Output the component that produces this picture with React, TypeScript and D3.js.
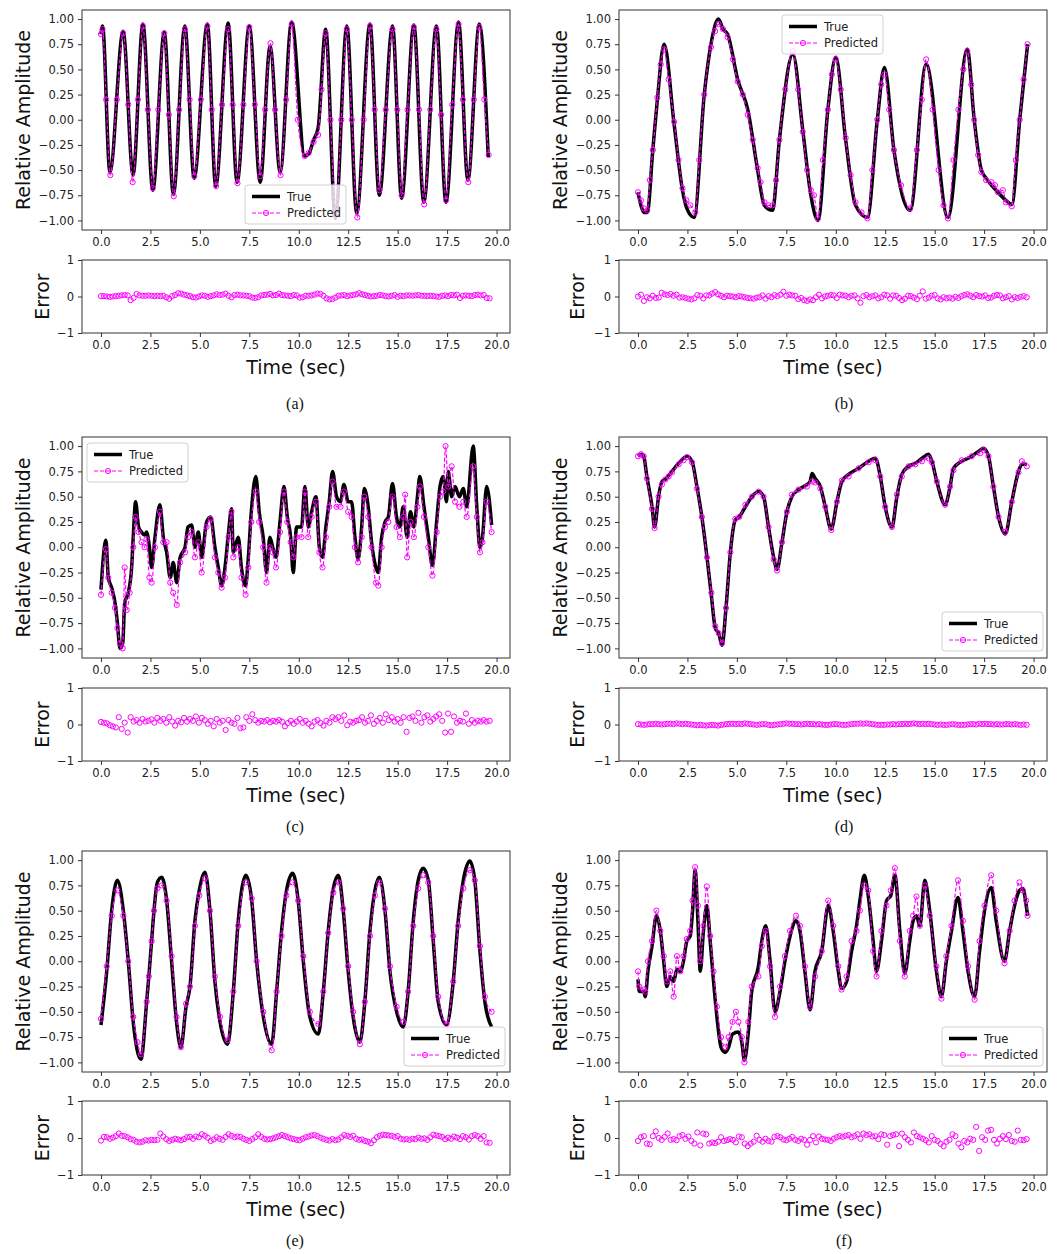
import { useEffect, useRef } from 'react';
import * as d3 from 'd3';

type Pt = [number, number];

const FONT = '"DejaVu Sans", sans-serif';
const MAGENTA = '#ff00ff';

// tick labels
const X_TICKS = [0, 2.5, 5, 7.5, 10, 12.5, 15, 17.5, 20];
const AMP_TICKS = [-1, -0.75, -0.5, -0.25, 0, 0.25, 0.5, 0.75, 1];
const ERR_TICKS = [-1, 0, 1];
const ERR_STEP = 0.15; // sampling interval of the error points (sec)

// (a)
const trueA: Pt[] = [[0,0.85],[0.08,0.93],[0.45,-0.52],[1.12,0.88],[1.62,-0.55],[2.12,0.95],[2.62,-0.7],[3.2,0.87],[3.66,-0.74],[4.24,0.93],[4.71,-0.58],[5.38,0.95],[5.8,-0.66],[6.43,0.96],[6.88,-0.62],[7.5,0.93],[8.05,-0.62],[8.55,0.73],[9.06,-0.52],[9.64,0.97],[10.3,-0.36],[10.5,-0.34],[10.75,-0.2],[10.98,-0.08],[11.36,0.9],[11.85,-0.98],[12.43,0.93],[12.93,-0.93],[13.6,0.95],[14.07,-0.75],[14.74,0.93],[15.2,-0.78],[15.82,0.94],[16.32,-0.82],[16.96,0.93],[17.44,-0.82],[18.08,0.97],[18.55,-0.6],[19.13,0.95],[19.58,-0.37]];
const predA: Pt[] = [[0,0.85],[0.08,0.9],[0.26,0.2],[0.47,-0.55],[0.8,0.2],[1.12,0.86],[1.38,0.15],[1.6,-0.62],[1.87,0.2],[2.12,0.93],[2.37,0.1],[2.62,-0.68],[2.9,0.1],[3.2,0.86],[3.43,0.05],[3.68,-0.76],[3.95,0.1],[4.24,0.9],[4.48,0.2],[4.72,-0.56],[5.05,0.2],[5.38,0.93],[5.6,0.1],[5.82,-0.66],[6.12,0.15],[6.43,0.9],[6.66,0.15],[6.9,-0.63],[7.2,0.15],[7.5,0.92],[7.78,0.15],[8.05,-0.56],[8.3,0.1],[8.57,0.76],[8.8,0.1],[9.08,-0.55],[9.36,0.2],[9.64,0.95],[9.95,0],[10.3,-0.36],[10.5,-0.33],[10.75,-0.22],[10.98,-0.15],[11.15,0.3],[11.36,0.86],[11.6,0],[11.87,-0.95],[12.15,0],[12.43,0.9],[12.68,0],[12.96,-0.97],[13.28,0],[13.6,0.93],[13.84,0.1],[14.07,-0.7],[14.4,0.1],[14.74,0.9],[14.98,0.1],[15.2,-0.75],[15.5,0.1],[15.82,0.92],[16.08,0.1],[16.34,-0.84],[16.65,0.1],[16.96,0.9],[17.2,0.05],[17.45,-0.8],[17.76,0.15],[18.08,0.95],[18.3,0.2],[18.57,-0.62],[18.85,0.2],[19.13,0.92],[19.38,0.2],[19.6,-0.35]];
const errA = [.01,.01,0,-.01,0,.01,.02,.03,.04,.03,-.1,-.04,.07,.03,.02,.02,.03,.02,.01,.02,.01,.02,-.02,-.06,.01,.04,.09,.08,.05,.03,.01,-.02,-.03,0,.03,.02,-.01,.01,.03,.06,.04,.05,.08,.02,-.02,.04,.05,.03,.03,.02,.01,-.03,-.04,-.02,.03,.04,.05,.07,.03,.04,.08,.04,.03,.02,.01,.04,.03,-.03,-.02,.02,.02,.03,.05,.08,.07,.02,-.05,-.08,-.07,-.03,.02,.03,.04,.01,.03,.04,.06,.09,.06,.04,.02,0,.01,.02,.04,.03,.01,0,.02,.04,-.01,.02,.01,.03,.03,.02,.03,.04,.02,.02,.01,.02,.01,0,-.01,.02,.03,.01,.04,.03,.05,-.04,.02,.03,.02,.01,.04,.05,.03,.04,-.04,-.05];

// (b)
const trueB: Pt[] = [[0,-0.72],[0.15,-0.85],[0.3,-0.92],[0.47,-0.92],[0.75,-0.3],[0.98,0.2],[1.32,0.75],[1.83,-0.05],[2.25,-0.7],[2.45,-0.87],[2.84,-0.97],[3.35,0.25],[3.69,0.75],[4.07,1.0],[4.3,0.9],[4.53,0.85],[5.04,0.4],[5.55,0.1],[6.05,-0.5],[6.39,-0.85],[6.8,-0.9],[7.15,-0.2],[7.83,0.65],[8.33,-0.1],[8.74,-0.75],[9.1,-1.0],[9.6,0.1],[10.0,0.62],[10.5,-0.2],[11.0,-0.85],[11.6,-0.97],[12.1,0],[12.46,0.52],[12.94,-0.3],[13.76,-0.9],[14.57,0.55],[15.67,-0.97],[16.65,0.7],[17.0,0],[17.36,-0.5],[17.6,-0.58],[17.87,-0.65],[18.2,-0.72],[18.6,-0.8],[18.9,-0.84],[19.3,0],[19.7,0.75]];
const predB: Pt[] = [[0,-0.72],[0.15,-0.8],[0.3,-0.88],[0.47,-0.9],[0.6,-0.6],[0.75,-0.3],[0.98,0.22],[1.15,0.55],[1.32,0.7],[1.55,0.4],[1.83,-0.02],[2.05,-0.4],[2.25,-0.68],[2.45,-0.8],[2.65,-0.85],[2.9,-0.92],[3.1,-0.4],[3.35,0.25],[3.69,0.72],[3.9,0.88],[4.07,0.95],[4.3,0.9],[4.53,0.82],[4.8,0.6],[5.04,0.38],[5.3,0.25],[5.55,0.05],[5.8,-0.2],[6.05,-0.48],[6.2,-0.62],[6.39,-0.82],[6.6,-0.85],[6.8,-0.85],[6.98,-0.6],[7.15,-0.2],[7.45,0.3],[7.83,0.68],[8.1,0.3],[8.33,-0.12],[8.55,-0.5],[8.74,-0.7],[8.9,-0.75],[9.1,-0.98],[9.35,-0.4],[9.6,0.1],[9.8,0.45],[10.0,0.6],[10.25,0.3],[10.5,-0.18],[10.75,-0.55],[11.0,-0.82],[11.3,-0.92],[11.6,-0.98],[11.85,-0.5],[12.1,0],[12.3,0.35],[12.46,0.45],[12.7,0.1],[12.94,-0.3],[13.3,-0.65],[13.76,-0.88],[14.1,-0.3],[14.35,0.2],[14.57,0.6],[14.9,0.1],[15.2,-0.5],[15.45,-0.85],[15.67,-0.98],[15.95,-0.4],[16.2,0.1],[16.45,0.5],[16.65,0.68],[16.85,0.35],[17.0,0],[17.2,-0.35],[17.36,-0.52],[17.6,-0.6],[17.87,-0.62],[18.05,-0.65],[18.2,-0.72],[18.45,-0.7],[18.6,-0.82],[18.9,-0.86],[19.1,-0.4],[19.3,0],[19.5,0.4],[19.7,0.75]];
const errB = [0,.05,-.12,-.02,-.05,.02,-.04,-.03,.1,.06,.04,.07,.02,.05,-.03,-.02,-.04,-.06,-.08,-.05,.04,.02,-.05,.03,.03,.08,.12,.06,.02,-.02,.02,.01,0,-.02,.01,0,-.02,-.04,-.05,-.06,-.03,-.02,.03,-.06,.01,-.02,.04,.01,.05,.13,.02,.05,.03,.02,-.07,-.04,-.1,-.12,-.08,-.1,-.02,.05,-.05,0,.02,.04,.03,-.04,.05,.03,.02,-.02,.02,.03,-.05,-.17,.01,.04,-.02,.01,.03,-.05,-.02,.05,.03,-.06,.03,.02,-.04,-.1,-.06,.02,.01,-.03,-.07,.02,.14,-.06,-.03,.02,.04,-.05,-.08,-.02,-.05,-.03,-.06,-.01,-.04,.01,.04,.06,.02,-.02,.04,.01,0,.03,-.04,-.03,.02,.04,.03,-.05,-.02,.01,-.08,-.02,-.04,-.01,.01,-.02];

// (c)
const trueC: Pt[] = [[0,-0.42],[0.25,0.07],[0.37,-0.3],[0.54,-0.4],[0.71,-0.55],[0.83,-0.75],[0.96,-1.0],[1.1,-0.95],[1.2,-0.55],[1.38,-0.45],[1.55,-0.2],[1.63,0.1],[1.75,0.45],[1.9,0.2],[2.05,0.15],[2.2,0.12],[2.3,0.15],[2.45,0],[2.56,-0.2],[2.73,0.1],[2.98,0.42],[3.15,0.1],[3.32,-0.05],[3.5,-0.3],[3.65,-0.15],[3.83,-0.35],[4.0,-0.1],[4.25,0],[4.4,0.2],[4.58,0.22],[4.75,0],[4.92,0.15],[5.09,-0.1],[5.34,0.25],[5.54,0.3],[5.76,0],[5.93,-0.2],[6.1,-0.38],[6.27,-0.2],[6.45,0.15],[6.6,0.38],[6.69,-0.05],[6.94,0.1],[7.1,-0.2],[7.31,-0.38],[7.45,-0.1],[7.6,0.35],[7.83,0.7],[8.0,0.35],[8.2,0.1],[8.37,-0.25],[8.54,0.1],[8.68,0],[8.85,-0.1],[9.05,0.25],[9.25,0.6],[9.42,0.3],[9.59,0.1],[9.72,-0.25],[9.89,0.2],[10.14,0.2],[10.31,0.6],[10.48,0.2],[10.65,0.35],[10.87,0.5],[11.04,0],[11.2,-0.1],[11.37,0.2],[11.54,0.45],[11.71,0.75],[11.91,0.5],[12.11,0.45],[12.28,0.62],[12.5,0.45],[12.67,0.45],[12.84,0.1],[13.0,-0.12],[13.18,0.2],[13.31,0.58],[13.51,0.4],[13.68,0.05],[13.9,-0.2],[14.02,-0.25],[14.19,0.1],[14.36,0.25],[14.53,0.3],[14.74,0.63],[14.94,0.3],[15.11,0.2],[15.28,0.4],[15.48,0.1],[15.65,0.35],[15.82,0.2],[16.0,0.5],[16.12,0.7],[16.33,0.4],[16.55,0.1],[16.76,-0.18],[16.97,0.25],[17.14,0.6],[17.3,0.7],[17.47,0.45],[17.56,0.75],[17.73,0.5],[17.9,0.6],[18.12,0.5],[18.32,0.58],[18.49,0.4],[18.82,1.0],[19.0,0.4],[19.16,0],[19.29,0.1],[19.5,0.6],[19.75,0.22]];
const predC: Pt[] = [[0,-0.47],[0.25,-0.02],[0.37,-0.3],[0.54,-0.45],[0.71,-0.6],[0.83,-0.8],[0.96,-0.95],[1.1,-1.0],[1.2,-0.2],[1.3,-0.62],[1.45,-0.45],[1.63,0],[1.75,0.3],[1.9,0.15],[2.05,0.05],[2.2,0],[2.3,0.08],[2.45,-0.3],[2.56,-0.35],[2.73,0],[2.98,0.35],[3.15,0.05],[3.32,0.05],[3.5,-0.35],[3.65,-0.45],[3.83,-0.57],[4.0,-0.15],[4.25,-0.05],[4.4,0.1],[4.58,0.15],[4.75,-0.1],[4.92,0.05],[5.09,-0.25],[5.34,0.2],[5.54,0.28],[5.76,-0.1],[5.93,-0.25],[6.1,-0.4],[6.27,-0.3],[6.45,0.1],[6.6,0.35],[6.69,-0.1],[6.94,0],[7.1,-0.3],[7.31,-0.47],[7.45,-0.2],[7.6,0.25],[7.83,0.55],[8.0,0.25],[8.2,0],[8.37,-0.35],[8.54,0],[8.68,-0.05],[8.85,-0.2],[9.05,0.15],[9.25,0.55],[9.42,0.25],[9.59,0.05],[9.72,-0.1],[9.89,0.1],[10.14,0.1],[10.31,0.55],[10.48,0.1],[10.65,0.3],[10.87,0.45],[11.04,-0.05],[11.2,-0.2],[11.37,0.1],[11.54,0.4],[11.71,0.65],[11.91,0.4],[12.11,0.4],[12.28,0.55],[12.5,0.35],[12.67,0.3],[12.84,0],[13.0,-0.15],[13.18,0.1],[13.31,0.5],[13.51,0.3],[13.68,0],[13.9,-0.35],[14.02,-0.38],[14.19,0],[14.36,0.2],[14.53,0.25],[14.74,0.5],[14.94,0.2],[15.11,0.1],[15.28,0.3],[15.38,0.52],[15.48,-0.1],[15.65,0.25],[15.82,0.1],[16.0,0.4],[16.12,0.6],[16.33,0.3],[16.55,0],[16.76,-0.28],[16.97,0.15],[17.14,0.5],[17.3,0.55],[17.42,1.0],[17.56,0.6],[17.73,0.8],[17.9,0.45],[18.12,0.4],[18.32,0.45],[18.49,0.3],[18.82,0.8],[19.0,0.3],[19.16,-0.05],[19.29,0.05],[19.5,0.45],[19.75,0.15]];
const errC = [.07,.05,.03,-.02,-.05,-.08,.2,-.12,.05,-.22,.2,.08,.12,.05,.15,.08,.1,.14,.05,.18,.1,.15,.05,.2,.08,-.03,.1,.06,.18,.08,.15,.1,.22,.05,.18,.12,.02,.1,-.05,.15,.05,.1,-.15,.12,.05,.02,.18,-.1,-.08,.2,.1,.28,.12,.05,.1,.08,.12,.06,.1,.08,.12,.08,-.05,.04,.1,.02,.08,.15,.05,.1,.02,-.05,.08,.12,.04,-.03,.1,.05,.2,.15,.2,.1,.25,-.02,.08,.05,.1,.12,.2,.05,.1,.25,.02,.1,.18,.05,.28,.12,.2,.08,.15,.05,.2,-.2,.18,.22,.1,.32,.05,.2,.25,.08,.15,.22,.28,.1,-.22,.3,-.2,.22,.05,.1,.08,.3,.02,.12,.05,.1,.08,.12,.08,.1];

// (d)
const trueD: Pt[] = [[0,0.9],[0.2,0.92],[0.29,0.9],[0.45,0.7],[0.71,0.4],[0.84,0.2],[1.04,0.5],[1.21,0.65],[1.38,0.67],[1.72,0.75],[2.06,0.83],[2.48,0.9],[2.73,0.85],[2.98,0.6],[3.23,0.3],[3.49,-0.1],[3.71,-0.48],[3.91,-0.8],[4.08,-0.85],[4.25,-0.97],[4.45,-0.6],[4.67,-0.05],[4.92,0.27],[5.12,0.3],[5.43,0.4],[5.76,0.5],[6.1,0.55],[6.35,0.5],[6.6,0.2],[6.86,-0.1],[7.03,-0.22],[7.28,0.05],[7.53,0.35],[7.78,0.5],[8.12,0.57],[8.54,0.62],[8.7,0.65],[8.8,0.73],[8.96,0.68],[9.22,0.6],[9.47,0.4],[9.77,0.18],[10.06,0.45],[10.31,0.65],[10.65,0.72],[11.15,0.78],[11.66,0.85],[12.0,0.88],[12.25,0.7],[12.5,0.4],[12.84,0.2],[13.09,0.5],[13.34,0.72],[13.68,0.8],[14.02,0.83],[14.36,0.88],[14.69,0.92],[14.86,0.85],[15.11,0.65],[15.53,0.42],[15.78,0.6],[15.95,0.78],[16.37,0.85],[16.88,0.9],[17.3,0.96],[17.46,0.98],[17.72,0.9],[17.97,0.6],[18.23,0.3],[18.57,0.13],[18.9,0.45],[19.24,0.75],[19.41,0.82],[19.66,0.82]];
const predD: Pt[] = [[0,0.9],[0.15,0.92],[0.29,0.9],[0.45,0.68],[0.71,0.38],[0.84,0.19],[1.04,0.5],[1.21,0.62],[1.38,0.67],[1.55,0.7],[1.72,0.74],[2.06,0.82],[2.3,0.86],[2.48,0.89],[2.73,0.84],[2.98,0.58],[3.23,0.3],[3.49,-0.1],[3.71,-0.45],[3.91,-0.78],[4.08,-0.85],[4.25,-0.95],[4.45,-0.6],[4.67,-0.05],[4.92,0.28],[5.12,0.3],[5.43,0.42],[5.76,0.5],[6.1,0.55],[6.35,0.5],[6.6,0.2],[6.86,-0.12],[7.03,-0.23],[7.28,0.05],[7.53,0.35],[7.78,0.52],[8.12,0.57],[8.54,0.6],[8.8,0.65],[8.96,0.64],[9.22,0.58],[9.47,0.4],[9.77,0.17],[10.06,0.45],[10.31,0.66],[10.65,0.7],[11.15,0.78],[11.66,0.84],[12.0,0.86],[12.25,0.7],[12.5,0.4],[12.84,0.2],[13.09,0.52],[13.34,0.7],[13.68,0.8],[14.02,0.82],[14.36,0.85],[14.69,0.88],[14.86,0.84],[15.11,0.65],[15.53,0.42],[15.78,0.6],[15.95,0.76],[16.37,0.86],[16.88,0.9],[17.3,0.93],[17.46,0.96],[17.72,0.9],[17.97,0.6],[18.23,0.3],[18.57,0.15],[18.9,0.45],[19.24,0.74],[19.41,0.85],[19.66,0.8]];
const errD = [.01,0,-.01,0,.01,.01,.02,.01,0,.01,.02,.02,.01,.03,.02,.01,.02,.01,0,-.01,-.02,-.01,-.02,-.03,-.02,-.01,-.02,-.03,-.01,0,.01,.02,.02,.01,.02,.01,.03,.02,.01,0,-.01,0,.01,.01,-.01,-.02,-.01,0,.01,.02,.03,.02,.02,.01,.01,0,.01,.02,.01,.01,0,.01,0,-.01,-.01,0,.01,.01,0,-.01,-.01,0,.01,.02,.02,.03,.02,.03,.02,.01,0,-.01,-.01,-.01,0,0,.01,0,.01,.01,.02,.01,.02,.03,.02,.01,.02,.01,.02,.01,0,-.01,0,-.01,-.01,0,.01,0,-.01,-.01,-.01,0,.01,.01,0,.02,.01,.02,.01,.01,0,.01,0,0,.01,.01,0,.01,0,-.01,0,-.01];

// (e)
const trueE: Pt[] = [[0,-0.63],[0.29,-0.1],[0.54,0.5],[0.83,0.8],[1.13,0.5],[1.38,0],[1.63,-0.6],[2.02,-0.97],[2.31,-0.4],[2.42,-0.15],[2.56,0.2],[2.68,0.5],[2.85,0.78],[3.07,0.83],[3.32,0.6],[3.57,0],[3.82,-0.6],[4.04,-0.85],[4.3,-0.45],[4.5,-0.25],[4.75,0.4],[4.97,0.7],[5.26,0.88],[5.51,0.5],[5.76,-0.2],[6.02,-0.6],[6.4,-0.82],[6.69,-0.3],[6.94,0.4],[7.33,0.85],[7.62,0.6],[7.87,0],[8.21,-0.55],[8.63,-0.82],[8.88,-0.3],[9.13,0.3],[9.38,0.7],[9.69,0.87],[9.97,0.6],[10.23,0],[10.56,-0.55],[10.99,-0.72],[11.24,-0.3],[11.49,0.3],[11.75,0.72],[12.0,0.85],[12.25,0.5],[12.5,-0.1],[12.75,-0.55],[13.09,-0.8],[13.34,-0.4],[13.6,0.3],[13.85,0.7],[14.07,0.83],[14.36,0.5],[14.61,-0.1],[14.95,-0.5],[15.28,-0.65],[15.53,-0.3],[15.79,0.4],[16.04,0.8],[16.29,0.92],[16.55,0.8],[16.8,0.2],[17.05,-0.4],[17.47,-0.63],[17.81,-0.2],[18.06,0.4],[18.32,0.8],[18.65,0.99],[18.9,0.8],[19.16,0.1],[19.41,-0.4],[19.75,-0.65]];
const predE: Pt[] = [[0,-0.57],[0.29,-0.05],[0.54,0.45],[0.83,0.7],[1.13,0.45],[1.38,0],[1.63,-0.55],[1.85,-0.8],[2.02,-0.92],[2.31,-0.4],[2.42,-0.15],[2.56,0.2],[2.68,0.5],[2.85,0.72],[3.07,0.75],[3.32,0.6],[3.57,0.05],[3.82,-0.55],[4.04,-0.85],[4.3,-0.42],[4.5,-0.25],[4.75,0.35],[4.97,0.65],[5.26,0.82],[5.51,0.5],[5.76,-0.15],[6.02,-0.55],[6.4,-0.78],[6.69,-0.3],[6.94,0.35],[7.33,0.78],[7.62,0.62],[7.87,0],[8.21,-0.5],[8.63,-0.88],[8.88,-0.3],[9.13,0.25],[9.38,0.65],[9.69,0.78],[9.97,0.6],[10.23,0.05],[10.56,-0.5],[10.99,-0.62],[11.24,-0.3],[11.49,0.28],[11.75,0.68],[12.0,0.78],[12.25,0.52],[12.5,-0.05],[12.75,-0.5],[13.09,-0.82],[13.34,-0.4],[13.6,0.25],[13.85,0.65],[14.07,0.78],[14.36,0.52],[14.61,-0.05],[14.95,-0.45],[15.28,-0.6],[15.53,-0.3],[15.79,0.35],[16.04,0.72],[16.29,0.85],[16.55,0.78],[16.8,0.25],[17.05,-0.35],[17.47,-0.62],[17.81,-0.2],[18.06,0.35],[18.32,0.72],[18.65,0.9],[18.9,0.8],[19.16,0.15],[19.41,-0.35],[19.75,-0.5]];
const errE = [-.07,.03,.02,-.02,.01,.05,.12,.06,.05,.02,-.03,-.05,-.1,-.12,-.1,-.06,-.07,-.05,-.06,-.05,.12,.04,-.03,-.08,-.05,-.02,-.04,-.06,-.03,.02,.03,-.02,.04,.02,.1,.06,.01,-.08,-.04,.02,-.02,-.05,.03,.1,.06,.02,.04,.03,-.02,-.05,-.08,-.03,.02,.1,.03,-.02,-.04,-.03,-.01,.02,.05,.08,.05,.02,-.01,-.03,-.05,-.06,-.02,.02,.04,.07,.08,.05,.01,-.02,-.05,-.07,-.03,-.06,-.04,.02,.08,.06,.03,.06,-.02,-.05,-.04,-.08,-.1,-.14,-.06,.02,.06,.09,.08,.07,.06,.03,.05,-.02,-.04,-.03,-.05,-.02,-.03,.01,-.02,-.01,-.05,.02,.09,.07,.05,.03,-.03,.01,-.02,.04,.01,-.03,.05,.02,-.04,.05,.08,.05,-.02,.05,-.12,-.13];

// (f)
const trueF: Pt[] = [[0,-0.18],[0.07,-0.3],[0.29,-0.3],[0.37,-0.35],[0.5,-0.1],[0.71,0.15],[0.93,0.45],[1.13,0.3],[1.3,0],[1.46,-0.25],[1.63,-0.15],[1.8,-0.2],[1.97,-0.08],[2.14,-0.1],[2.3,0],[2.47,0.2],[2.64,0.25],[2.76,0.5],[2.89,0.9],[3.03,0.4],[3.15,-0.1],[3.31,0.3],[3.48,0.55],[3.65,0.2],[3.82,-0.2],[3.99,-0.55],[4.2,-0.85],[4.41,-0.9],[4.58,-0.85],[4.78,-0.72],[5.08,-0.7],[5.25,-0.8],[5.38,-0.98],[5.58,-0.7],[5.75,-0.3],[6.09,-0.05],[6.26,0.2],[6.46,0.35],[6.68,0],[6.93,-0.5],[7.18,-0.3],[7.43,0],[7.69,0.25],[7.99,0.4],[8.19,0.3],[8.44,-0.1],[8.7,-0.48],[8.95,-0.1],[9.29,0.1],[9.62,0.55],[9.87,0.3],[10.13,-0.1],[10.29,-0.27],[10.55,-0.2],[10.8,0.1],[11.05,0.35],[11.22,0.6],[11.44,0.85],[11.64,0.65],[11.89,0.2],[12.06,-0.1],[12.31,0.2],[12.57,0.6],[12.78,0.65],[12.99,0.85],[13.24,0.3],[13.49,-0.12],[13.74,0.2],[13.91,0.4],[14.08,0.45],[14.25,0.35],[14.5,0.8],[14.75,0.5],[15.09,-0.1],[15.34,-0.35],[15.59,0],[15.85,0.3],[16.18,0.63],[16.43,0.3],[16.69,-0.1],[17.02,-0.35],[17.27,0.1],[17.52,0.5],[17.86,0.73],[18.11,0.4],[18.53,0],[18.79,0.3],[19.04,0.55],[19.29,0.7],[19.46,0.72],[19.63,0.55],[19.7,0.45]];
const predF: Pt[] = [[0,-0.1],[0.07,-0.25],[0.29,-0.28],[0.37,-0.3],[0.5,0],[0.71,0.2],[0.93,0.5],[1.13,0.3],[1.3,0.05],[1.46,-0.2],[1.63,-0.1],[1.8,-0.35],[1.97,0.05],[2.14,-0.1],[2.3,0.05],[2.47,0.22],[2.64,0.3],[2.76,0.6],[2.89,0.93],[3.03,0.55],[3.15,0],[3.31,0.35],[3.48,0.74],[3.65,0.25],[3.82,-0.1],[3.99,-0.45],[4.2,-0.75],[4.41,-0.85],[4.58,-0.75],[4.78,-0.6],[4.95,-0.5],[5.08,-0.6],[5.25,-0.75],[5.38,-1.0],[5.58,-0.6],[5.75,-0.25],[6.09,-0.15],[6.26,0.15],[6.46,0.3],[6.68,-0.05],[6.93,-0.55],[7.18,-0.25],[7.43,0.05],[7.69,0.3],[7.99,0.45],[8.19,0.35],[8.44,-0.05],[8.7,-0.45],[8.95,-0.15],[9.29,0.1],[9.62,0.6],[9.87,0.35],[10.13,-0.05],[10.29,-0.28],[10.55,-0.15],[10.8,0.2],[11.05,0.3],[11.22,0.5],[11.44,0.75],[11.64,0.7],[11.89,0.1],[12.06,-0.15],[12.31,0.3],[12.57,0.55],[12.78,0.7],[12.99,0.92],[13.24,0.2],[13.49,-0.15],[13.74,0.3],[13.91,0.45],[14.08,0.64],[14.25,0.35],[14.5,0.75],[14.75,0.45],[15.09,-0.05],[15.34,-0.37],[15.59,0.05],[15.85,0.35],[16.18,0.8],[16.43,0.4],[16.69,-0.05],[17.02,-0.38],[17.27,0.2],[17.52,0.55],[17.86,0.85],[18.11,0.5],[18.53,-0.02],[18.79,0.3],[19.04,0.6],[19.29,0.78],[19.46,0.7],[19.63,0.6],[19.7,0.45]];
const errF = [-.08,.02,.05,-.15,-.17,.05,.18,0,-.05,.03,.12,-.05,-.03,-.06,.05,.08,-.02,.04,-.08,-.15,.15,-.2,.12,.1,-.15,-.12,-.14,-.1,.02,-.08,-.06,-.03,-.05,-.12,.04,.02,-.15,-.22,-.15,-.1,.06,-.05,-.1,-.02,-.08,-.1,.03,.05,.02,-.04,-.06,-.02,.03,-.05,-.08,-.02,-.05,-.18,-.05,.05,-.12,.04,-.02,-.04,-.05,-.08,-.02,.02,.05,.03,.06,.08,.02,.05,.1,-.02,.12,.08,.1,.04,.05,-.03,.1,.08,-.18,.05,.08,.1,-.22,.12,.02,-.05,-.12,.15,.05,.02,-.02,-.06,-.12,.05,-.05,-.08,-.16,-.22,-.1,-.05,.1,.05,-.15,-.25,-.08,-.12,-.02,-.05,.3,-.35,.02,-.05,.2,.22,-.05,-.15,-.02,.05,-.03,.08,-.08,-.1,.2,-.05,-.06,-.03];

interface PanelSpec {
  caption: string;
  trueSeries: Pt[];
  predSeries: Pt[];
  errSeries: number[];
  left: number;
  right: number;
  mainTop: number;
  mainBottom: number;
  errTop: number;
  errBottom: number;
  legendX: number;
  legendY: number;
  captionX: number;
  captionY: number;
  ampLabelX: number;
  errLabelX: number;
}

const LEFT = { left: 82, right: 510, captionX: 295, ampLabelX: 22.5, errLabelX: 41.5 };
const RIGHT = { left: 619, right: 1047, captionX: 844, ampLabelX: 559.5, errLabelX: 577 };
const ROW1 = { mainTop: 10, mainBottom: 230, errTop: 260, errBottom: 333, captionY: 409 };
const ROW2 = { mainTop: 437, mainBottom: 658, errTop: 688, errBottom: 761, captionY: 832 };
const ROW3 = { mainTop: 851, mainBottom: 1072, errTop: 1101, errBottom: 1175, captionY: 1246 };

const PANELS: PanelSpec[] = [
  { caption: '(a)', trueSeries: trueA, predSeries: predA, errSeries: errA, ...LEFT, ...ROW1, legendX: 245, legendY: 185 },
  { caption: '(b)', trueSeries: trueB, predSeries: predB, errSeries: errB, ...RIGHT, ...ROW1, legendX: 782, legendY: 15 },
  { caption: '(c)', trueSeries: trueC, predSeries: predC, errSeries: errC, ...LEFT, ...ROW2, legendX: 87, legendY: 443 },
  { caption: '(d)', trueSeries: trueD, predSeries: predD, errSeries: errD, ...RIGHT, ...ROW2, legendX: 942, legendY: 612 },
  { caption: '(e)', trueSeries: trueE, predSeries: predE, errSeries: errE, ...LEFT, ...ROW3, legendX: 404, legendY: 1027 },
  { caption: '(f)', trueSeries: trueF, predSeries: predF, errSeries: errF, ...RIGHT, ...ROW3, legendX: 942, legendY: 1027 },
];

function styleAxis(sel: d3.Selection<SVGGElement, unknown, null, undefined>) {
  sel.select('.domain').remove();
  sel.attr('font-size', 11.5).attr('font-family', FONT);
  sel.selectAll('text').attr('fill', '#222');
  sel.selectAll('line').attr('stroke', '#333');
}

function Panel({ spec }: { spec: PanelSpec }) {
  const ref = useRef<SVGGElement>(null);

  useEffect(() => {
    if (!ref.current) return;
    const g = d3.select(ref.current);
    g.selectAll('*').remove();
    const p = spec;

    const x = d3.scaleLinear().domain([-0.96, 20.68]).range([p.left, p.right]);
    const y = d3.scaleLinear().domain([-1.095, 1.09]).range([p.mainBottom, p.mainTop]);
    const ye = d3.scaleLinear().domain([-1, 1]).range([p.errBottom, p.errTop]);

    // main axes
    g.append('rect')
      .attr('x', p.left).attr('y', p.mainTop)
      .attr('width', p.right - p.left).attr('height', p.mainBottom - p.mainTop)
      .attr('fill', 'white');

    const line = d3.line<Pt>()
      .x(d => x(d[0]))
      .y(d => y(d[1]))
      .curve(d3.curveMonotoneX);

    g.append('path')
      .attr('d', line(p.trueSeries))
      .attr('fill', 'none')
      .attr('stroke', '#000')
      .attr('stroke-width', 3.5)
      .attr('stroke-linejoin', 'round');

    g.append('path')
      .attr('d', line(p.predSeries))
      .attr('fill', 'none')
      .attr('stroke', MAGENTA)
      .attr('stroke-width', 1.2)
      .attr('stroke-dasharray', '4,2');

    g.append('g').selectAll('circle')
      .data(p.predSeries)
      .enter()
      .append('circle')
      .attr('cx', d => x(d[0]))
      .attr('cy', d => y(d[1]))
      .attr('r', 2.6)
      .attr('fill', 'none')
      .attr('stroke', MAGENTA)
      .attr('stroke-width', 1);

    g.append('rect')
      .attr('x', p.left).attr('y', p.mainTop)
      .attr('width', p.right - p.left).attr('height', p.mainBottom - p.mainTop)
      .attr('fill', 'none').attr('stroke', '#333').attr('stroke-width', 1);

    const gx = g.append('g')
      .attr('transform', `translate(0,${p.mainBottom})`)
      .call(d3.axisBottom(x).tickValues(X_TICKS).tickFormat(d3.format('.1f')).tickSize(4).tickPadding(4).tickSizeOuter(0));
    styleAxis(gx);

    const gy = g.append('g')
      .attr('transform', `translate(${p.left},0)`)
      .call(d3.axisLeft(y).tickValues(AMP_TICKS).tickFormat(d3.format('.2f')).tickSize(4).tickPadding(4).tickSizeOuter(0));
    styleAxis(gy);

    g.append('text')
      .attr('transform', `translate(${p.ampLabelX},${(p.mainTop + p.mainBottom) / 2}) rotate(-90)`)
      .attr('text-anchor', 'middle')
      .attr('dominant-baseline', 'central')
      .attr('font-family', FONT)
      .attr('font-size', 19)
      .attr('fill', '#111')
      .text('Relative Amplitude');

    // legend
    const lg = g.append('g').attr('transform', `translate(${p.legendX},${p.legendY})`);
    lg.append('rect')
      .attr('width', 101).attr('height', 39).attr('rx', 3)
      .attr('fill', 'white').attr('fill-opacity', 0.8)
      .attr('stroke', '#d0d0d0');
    lg.append('line').attr('x1', 7).attr('x2', 35).attr('y1', 11.5).attr('y2', 11.5)
      .attr('stroke', '#000').attr('stroke-width', 3.5);
    lg.append('line').attr('x1', 7).attr('x2', 35).attr('y1', 28).attr('y2', 28)
      .attr('stroke', MAGENTA).attr('stroke-width', 1.2).attr('stroke-dasharray', '4,2');
    lg.append('circle').attr('cx', 21).attr('cy', 28).attr('r', 2.6)
      .attr('fill', 'none').attr('stroke', MAGENTA);
    lg.selectAll('text.lbl')
      .data(['True', 'Predicted'])
      .enter()
      .append('text')
      .attr('x', 42)
      .attr('y', (_, i) => (i === 0 ? 11.5 : 28))
      .attr('dominant-baseline', 'central')
      .attr('font-family', FONT)
      .attr('font-size', 11.5)
      .attr('fill', '#222')
      .text(d => d);

    // error axes
    g.append('rect')
      .attr('x', p.left).attr('y', p.errTop)
      .attr('width', p.right - p.left).attr('height', p.errBottom - p.errTop)
      .attr('fill', 'white');

    g.append('g').selectAll('circle')
      .data(p.errSeries)
      .enter()
      .append('circle')
      .attr('cx', (_, i) => x(i * ERR_STEP))
      .attr('cy', d => ye(d))
      .attr('r', 2.6)
      .attr('fill', 'none')
      .attr('stroke', MAGENTA)
      .attr('stroke-width', 1);

    g.append('rect')
      .attr('x', p.left).attr('y', p.errTop)
      .attr('width', p.right - p.left).attr('height', p.errBottom - p.errTop)
      .attr('fill', 'none').attr('stroke', '#333').attr('stroke-width', 1);

    const ex = g.append('g')
      .attr('transform', `translate(0,${p.errBottom})`)
      .call(d3.axisBottom(x).tickValues(X_TICKS).tickFormat(d3.format('.1f')).tickSize(4).tickPadding(4).tickSizeOuter(0));
    styleAxis(ex);

    const ey = g.append('g')
      .attr('transform', `translate(${p.left},0)`)
      .call(d3.axisLeft(ye).tickValues(ERR_TICKS).tickFormat(d3.format('d')).tickSize(4).tickPadding(4).tickSizeOuter(0));
    styleAxis(ey);

    g.append('text')
      .attr('transform', `translate(${p.errLabelX},${(p.errTop + p.errBottom) / 2}) rotate(-90)`)
      .attr('text-anchor', 'middle')
      .attr('dominant-baseline', 'central')
      .attr('font-family', FONT)
      .attr('font-size', 19)
      .attr('fill', '#111')
      .text('Error');

    g.append('text')
      .attr('x', (p.left + p.right) / 2)
      .attr('y', p.errBottom + 41)
      .attr('text-anchor', 'middle')
      .attr('font-family', FONT)
      .attr('font-size', 19)
      .attr('fill', '#111')
      .text('Time (sec)');

    g.append('text')
      .attr('x', p.captionX)
      .attr('y', p.captionY)
      .attr('text-anchor', 'middle')
      .attr('font-family', '"Liberation Serif", "Times New Roman", serif')
      .attr('font-size', 16)
      .attr('fill', '#111')
      .text(p.caption);
  }, [spec]);

  return <g ref={ref} />;
}

export default function App() {
  return (
    <svg
      width={1060}
      height={1254}
      style={{ position: 'absolute', left: 0, top: 0, background: 'white' }}
    >
      {PANELS.map(p => (
        <Panel key={p.caption} spec={p} />
      ))}
    </svg>
  );
}
